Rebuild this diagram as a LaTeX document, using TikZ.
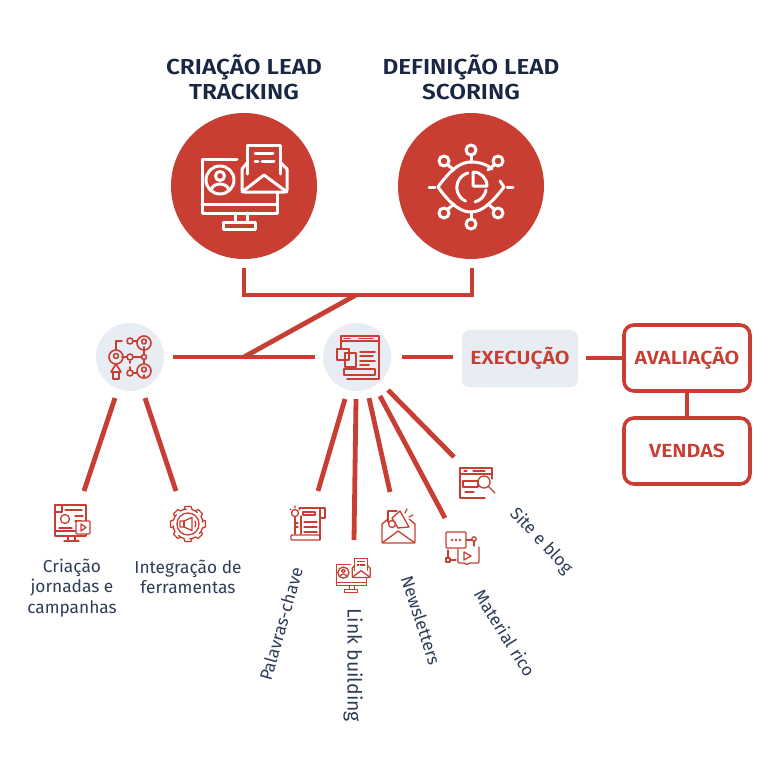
\documentclass[tikz,border=0pt]{standalone}
\usepackage{fontspec}
\setmainfont{Fira Sans}
\newfontfamily\widebold[FakeStretch=1.12]{Fira Sans SemiBold}
\usetikzlibrary{calc}
\definecolor{brand}{HTML}{C83E32}
\definecolor{navy}{HTML}{1A2743}
\definecolor{slate}{HTML}{2F3D58}
\definecolor{pale}{HTML}{E8EDF4}
\tikzset{
  conn/.style={draw=brand,line width=4.8pt},
  bigdisc/.style={circle,fill=brand,minimum size=146pt,inner sep=0},
  smalldisc/.style={circle,fill=pale,minimum size=68pt,inner sep=0},
  title/.style={font=\fontsize{21.7}{25}\widebold,text=navy,align=center},
  outbox/.style={draw=brand,line width=3.6pt,rounded corners=10pt,fill=white,minimum width=126pt,minimum height=66pt,text=brand,font=\fontsize{19}{20}\widebold},
  execbox/.style={fill=pale,rounded corners=7pt,minimum width=116pt,minimum height=57pt,text=brand,font=\fontsize{19}{20}\widebold},
  lab/.style={font=\fontsize{17.3}{20.5}\selectfont,text=slate,align=center},
  ico/.style={line width=#1,line cap=round,line join=round},
}
% every icon is drawn around (0,0); y grows downward, so angles run clockwise
\newcommand{\iconmail}{%
  \draw (-7,-27)--(-42,-27)--(-42,27)--(33,27)--(33,7);
  \draw (-42,18)--(33,18);
  \draw (-9,27)--(-9,36) (3,27)--(3,36);
  \draw (-21,36) rectangle (11,43);
  \draw (-24,-6) circle (14);
  \draw (-24,-10) circle (4.5);
  \draw (-33,4) .. controls (-31,-4) and (-17,-4) .. (-15,4);
  \draw[rounded corners=2pt] (-2,-17)--(-2,6)--(43,6)--(43,-17);
  \draw (-2,-17)--(3,-23) (43,-17)--(37,-23);
  \draw (-2,6)--(20,-11)--(43,6);
  \draw (3,-12)--(3,-41)--(36,-41)--(36,-12);
  \draw (11,-33)--(29,-33) (11,-25)--(14,-25) (18,-25)--(30,-25);
}
\newcommand{\iconeye}{%
  \draw (-33,0) .. controls (-18,-21) and (-8,-25) .. (0,-25) .. controls (6,-25) and (14,-24) .. (21,-18);
  \draw (-33,0) .. controls (-18,21) and (-8,25) .. (0,25) .. controls (12,25) and (22,14) .. (33,0) -- (29,-6);
  \draw (2,-15)--(2,-1)--(16,-1) arc (0:-90:14);
  \draw (-3,-14) arc (255:115:15);
  \draw (15,3) arc (10:75:15);
  \draw (0,-25)--(0,-32) (0,25)--(0,32);
  \draw (0,-37) circle (5) (0,37) circle (5);
  \foreach \dx/\dy in {-1/-1,1/-1,-1/1,1/1}{
    \draw (\dx*27,\dy*26) circle (5);
    \draw (\dx*23,\dy*22)--(\dx*17,\dy*17);
  }
  \draw (-42,0)--(-36,0) (36,0)--(42,0);
}
\newcommand{\iconflow}{%
  \draw (14,-14) circle (7) (14,14) circle (7);
  \draw (14,-15.5) circle (2.4) (14,12.5) circle (2.4);
  \draw (14,-10)--(14,-7.5) (14,18)--(14,21);
  \draw (0,-16) circle (3) (0,0) circle (3) (0,16) circle (3);
  \draw (14,0) circle (2.5);
  \draw (3,-16)--(7,-16) (3,16)--(7,16) (3,0)--(11.5,0) (14,-7)--(14,-2.5) (14,7)--(14,2.5) (-8,0)--(-3,0) (0,4)--(0,6) (0,10)--(0,13);
  \draw (-14,0) circle (7) (-14,-1) circle (2.5);
  \draw (-14,-7)--(-14,-16)--(-8,-16);
  \draw (-14,7)--(-19,15)--(-9,15)--cycle;
  \draw (-17,15)--(-17,22)--(-11,22)--(-11,15);
}
\newcommand{\iconpage}{%
  \draw (-16,-8)--(-16,-21)--(22,-21)--(22,22)--(-10,22);
  \draw (-16,-16)--(22,-16);
  \draw (-13,-18.5)--(-7,-18.5) (2,-18.5)--(16,-18.5);
  \draw (-20,-8) rectangle (-8,3);
  \draw (-12,-4) rectangle (-1,10);
  \draw (3,-5)--(18,-5) (3,-1)--(16,-1) (3,4)--(18,4) (3,8)--(12,8);
  \draw (-13,12) rectangle (18,18);
}
\newcommand{\iconcampaign}{%
  \draw (-17,-20) rectangle (14,11);
  \draw (-17,-20) rectangle (-10,-13);
  \draw (-7,-15)--(10,-15) (3,-9)--(11,-9) (3,-4)--(9,-4);
  \draw (-7,-6) circle (4.5);
  \draw (-13,3)--(0,3);
  \draw (-17,6)--(5,6);
  \draw (-4,11)--(-4,16) (3,11)--(3,16) (-8,16)--(7,16);
  \draw[fill=white,rounded corners=1pt] (4,-4) rectangle (18,9);
  \draw (9,-1)--(9,6)--(14,2.5)--cycle;
}
\newcommand{\icongear}{%
  \foreach \a in {0,45,...,315}{
    \draw[rotate=\a] (-4,-14.5) -- (-3,-17.5) -- (3,-17.5) -- (4,-14.5);
    \draw[rotate=\a] (4,-14.5) .. controls (6,-14) and (8,-13) .. (9.3,-11.6);
  }
  \draw (0,0) circle (11);
  \draw (-8,-3)--(-8,3)--(-4,3)--(4,6.5)--(4,-6.5)--(-4,-3)--cycle;
  \draw (-4,-3)--(-4,3);
  \draw (7,-3) arc (-30:30:6);
}
\newcommand{\iconkey}{%
  \draw (-9,-16)--(17,-16)--(17,-6)--(12,-6);
  \draw (12,-16)--(12,16);
  \draw (-7,-8)--(-7,10);
  \draw (-5,-12) rectangle (7,-9);
  \draw (-4,-2)--(9,-2) (-4,3)--(9,3) (-4,8)--(9,8);
  \draw (-13,-11) circle (3.5);
  \draw (-13,-7)--(-13,10) (-13,-1)--(-10,-1) (-13,3)--(-10,3);
  \draw (-13,-18)--(-13,-16) (-18,-15)--(-17,-14) (-8,-15)--(-9,-14);
  \draw[rounded corners=1pt] (-17,11) rectangle (12,16);
}
\newcommand{\iconnews}{%
  \draw[rounded corners=2pt] (-16,-2)--(-16,17)--(17,17)--(17,-2);
  \draw (-16,-2)--(-10,-7) (17,-2)--(11,-7);
  \draw (-16,17)--(0,5)--(17,17);
  \draw (-10,-4)--(-10,-15)--(-1,-15);
  \draw (-6,-8)--(2,-15)--(11,1)--(0,2)--cycle;
  \draw (-6,-2) circle (3.5);
  \draw (7,-13)--(9,-17) (11,-9)--(15,-11);
}
\newcommand{\iconmaterial}{%
  \draw[rounded corners=1pt] (-17,-16) rectangle (3,0);
  \fill[brand] (-11,-8) circle (1.4) (-7,-8) circle (1.4) (-3,-8) circle (1.4);
  \draw (3,-8)--(9,-8);
  \draw (11,-9) circle (2.2);
  \draw (11,-7)--(11,-2);
  \draw (-15,2)--(-15,10);
  \draw (-17,10) rectangle (-13,14) (-13,12)--(-7,12);
  \draw[rounded corners=1pt] (-5,1)--(-5,15)--(2,15)--(4,17)--(6,15)--(16,15)--(16,-1);
  \draw (1,4)--(1,12)--(8,8)--cycle;
}
\newcommand{\iconsite}{%
  \draw (-17,8)--(-17,-15)--(15,-15)--(15,-4);
  \draw (-17,8)--(-17,15)--(8,15);
  \draw (-17,-9)--(15,-9);
  \draw (-13,-12)--(-10,-12) (-4,-12)--(8,-12);
  \draw (-14,-2) rectangle (1,4);
  \draw (-12,9)--(-3,9);
  \draw (7,-1) circle (6);
  \draw (11,3)--(18,10);
}
\begin{document}
\begin{tikzpicture}[x=1pt,y=-1pt]
\useasboundingbox (0,0) rectangle (776,776);
\fill[white] (0,0) rectangle (776,776);

\node[title] (tl) at (244,77) {CRIAÇÃO LEAD\\TRACKING};
\node[title] (td) at (471,77) {DEFINIÇÃO LEAD\\SCORING};

\node[bigdisc] (track) at (244,186) {};
\node[bigdisc] (score) at (471,186) {};
\node[smalldisc] (flow) at (130,357) {};
\node[smalldisc] (page) at (357,357) {};
\node[execbox] (exec) at (520,358.5) {EXECUÇÃO};
\node[outbox] (aval) at (687,358) {AVALIAÇÃO};
\node[outbox] (vend) at (687,451) {VENDAS};

\begin{scope}[shift={(track.center)},draw=white,ico=3pt]\iconmail\end{scope}
\begin{scope}[shift={(score.center)},yshift=-1pt,draw=white,ico=3pt]\iconeye\end{scope}
\begin{scope}[shift={(flow.center)},draw=brand,ico=1.6pt]\iconflow\end{scope}
\begin{scope}[shift={(page.center)},draw=brand,ico=1.6pt]\iconpage\end{scope}

\coordinate (bl) at (244,268);
\coordinate (br) at (472,268);
\coordinate (bjoin) at (356,295);
\coordinate (hl) at (173,357);
\coordinate (hm) at (244,357);
\coordinate (hr) at (315,357);
\coordinate (el) at (402,357);
\coordinate (er) at (453,357);
\coordinate (ar) at (586,358);

\draw[conn] (bl)--(244,295)--(472,295)--(br);
\draw[conn] (bjoin)--(hm);
\draw[conn] (hl)--(hr);
\draw[conn] (el)--(er);
\draw[conn] (ar)--(aval.west);
\draw[conn] (aval.south)--(vend.north);

\node[inner sep=0,minimum size=36pt] (icampaign) at (72,525) {};
\node[inner sep=0,minimum size=36pt] (igear) at (188,524) {};
\node[inner sep=0,minimum size=36pt] (ikey) at (308,524) {};
\node[inner sep=0,minimum size=34pt] (ilink) at (353,575) {};
\node[inner sep=0,minimum size=36pt] (inews) at (398,526) {};
\node[inner sep=0,minimum size=34pt] (imat) at (463,548) {};
\node[inner sep=0,minimum size=34pt] (isite) at (477,483) {};

\coordinate (a1) at (115,398); \coordinate (b1) at (84,491);
\coordinate (a2) at (145,398); \coordinate (b2) at (176,491);
\coordinate (a3) at (345,399); \coordinate (b3) at (318,491);
\coordinate (a4) at (356,399); \coordinate (b4) at (354,540);
\coordinate (a5) at (369,398); \coordinate (b5) at (390,492);
\coordinate (a6) at (380,396); \coordinate (b6) at (445,518);
\coordinate (a7) at (388,390); \coordinate (b7) at (454,457);
\foreach \i in {1,...,7}{\draw[conn] (a\i)--(b\i);}

\begin{scope}[shift={(icampaign.center)},draw=brand,ico=1.3pt]\iconcampaign\end{scope}
\begin{scope}[shift={(igear.center)},draw=brand,ico=1.3pt]\icongear\end{scope}
\begin{scope}[shift={(ikey.center)},draw=brand,ico=1.3pt]\iconkey\end{scope}
\begin{scope}[shift={(ilink.center)},scale=0.4,draw=brand,ico=1.3pt]\iconmail\end{scope}
\begin{scope}[shift={(inews.center)},draw=brand,ico=1.3pt]\iconnews\end{scope}
\begin{scope}[shift={(imat.center)},draw=brand,ico=1.3pt]\iconmaterial\end{scope}
\begin{scope}[shift={(isite.center)},draw=brand,ico=1.3pt]\iconsite\end{scope}

\node[lab] (l1) at (72,588) {Criação\\jornadas e\\campanhas};
\node[lab] (l2) at (188,577) {Integração de\\ferramentas};
\node[lab,rotate=74] (l3) at (281,624) {Palavras-chave};
\node[lab,rotate=-90,font=\fontsize{19.4}{22}\selectfont] (l4) at (353,665) {Link building};
\node[lab,rotate=-72] (l5) at (421,620) {Newsletters};
\node[lab,rotate=-58] (l6) at (505,633) {Material rico};
\node[lab,rotate=-47] (l7) at (541,541) {Site e blog};
\end{tikzpicture}
\end{document}
